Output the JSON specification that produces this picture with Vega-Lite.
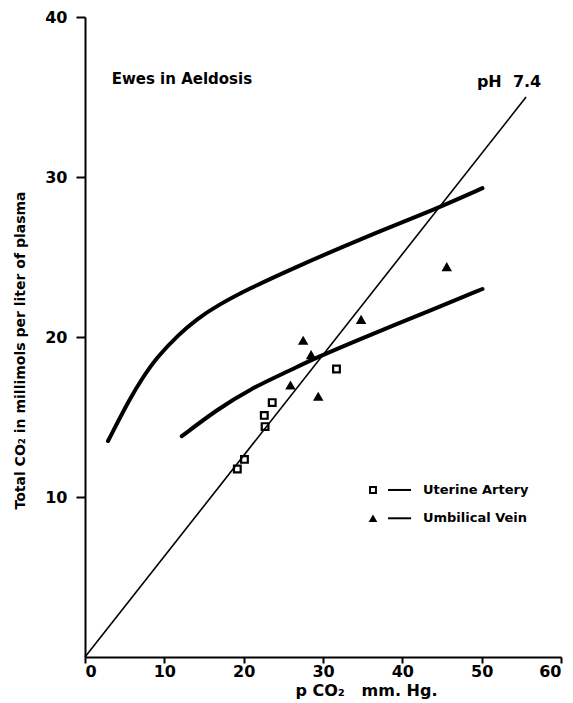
{
  "$schema": "https://vega.github.io/schema/vega-lite/v6.json",
  "width": 476,
  "height": 640,
  "autosize": {"type": "none"},
  "padding": {"left": 85, "top": 17, "right": 12, "bottom": 46},
  "background": "white",
  "config": {
    "view": {"stroke": null},
    "font": "DejaVu Sans",
    "axis": {
      "grid": false,
      "domainColor": "black",
      "domainWidth": 2,
      "tickColor": "black",
      "tickWidth": 2,
      "tickSize": 7,
      "labelFont": "DejaVu Sans",
      "labelFontWeight": "bold",
      "labelFontSize": 16,
      "labelColor": "black",
      "titleFont": "DejaVu Sans",
      "titleFontWeight": "bold",
      "titleColor": "black"
    }
  },
  "datasets": {
    "curves": [
      {"curve": "upper", "pco2": 2.9, "tco2": 13.5},
      {"curve": "upper", "pco2": 5.7, "tco2": 16.2},
      {"curve": "upper", "pco2": 7.33, "tco2": 17.5},
      {"curve": "upper", "pco2": 9.0, "tco2": 18.7},
      {"curve": "upper", "pco2": 11.9, "tco2": 20.2},
      {"curve": "upper", "pco2": 14.05, "tco2": 21.1},
      {"curve": "upper", "pco2": 16.6, "tco2": 21.95},
      {"curve": "upper", "pco2": 20.8, "tco2": 23.05},
      {"curve": "upper", "pco2": 25.8, "tco2": 24.2},
      {"curve": "upper", "pco2": 34.6, "tco2": 26.1},
      {"curve": "upper", "pco2": 44.7, "tco2": 28.1},
      {"curve": "upper", "pco2": 50.1, "tco2": 29.3},
      {"curve": "lower", "pco2": 12.2, "tco2": 13.8},
      {"curve": "lower", "pco2": 16.6, "tco2": 15.45},
      {"curve": "lower", "pco2": 20.8, "tco2": 16.75},
      {"curve": "lower", "pco2": 25.8, "tco2": 17.9},
      {"curve": "lower", "pco2": 29.1, "tco2": 18.7},
      {"curve": "lower", "pco2": 35.8, "tco2": 20.1},
      {"curve": "lower", "pco2": 44.2, "tco2": 21.8},
      {"curve": "lower", "pco2": 50.1, "tco2": 23.0}
    ],
    "ph": [
      {"pco2": 0, "tco2": 0},
      {"pco2": 55.6, "tco2": 35.0}
    ],
    "points": [
      {"site": "Uterine Artery", "pco2": 19.2, "tco2": 11.75},
      {"site": "Uterine Artery", "pco2": 20.1, "tco2": 12.35},
      {"site": "Uterine Artery", "pco2": 22.7, "tco2": 14.4},
      {"site": "Uterine Artery", "pco2": 22.6, "tco2": 15.1},
      {"site": "Uterine Artery", "pco2": 23.6, "tco2": 15.9},
      {"site": "Uterine Artery", "pco2": 31.7, "tco2": 18.0},
      {"site": "Umbilical Vein", "pco2": 27.5, "tco2": 19.8},
      {"site": "Umbilical Vein", "pco2": 28.5, "tco2": 18.9},
      {"site": "Umbilical Vein", "pco2": 25.9, "tco2": 17.0},
      {"site": "Umbilical Vein", "pco2": 29.4, "tco2": 16.3},
      {"site": "Umbilical Vein", "pco2": 34.8, "tco2": 21.1},
      {"site": "Umbilical Vein", "pco2": 45.6, "tco2": 24.4}
    ],
    "legend": [
      {"site": "Uterine Artery", "mx": 36.3, "lx1": 38.2, "lx2": 41.1, "tx": 42.6, "y": 10.44},
      {"site": "Umbilical Vein", "mx": 36.3, "lx1": 38.2, "lx2": 41.1, "tx": 42.6, "y": 8.67}
    ],
    "labels": [
      {"text": "Ewes in Aeldosis", "x": 3.36, "y": 36.1, "size": 15},
      {"text": "pH\u00a0\u00a07.4", "x": 49.4, "y": 35.96, "size": 16}
    ]
  },
  "layer": [
    {
      "data": {"name": "ph"},
      "mark": {"type": "line", "color": "black", "strokeWidth": 1.6},
      "encoding": {
        "x": {
          "field": "pco2", "type": "quantitative",
          "scale": {"domain": [0, 60], "nice": false, "zero": false},
          "axis": {
            "values": [0, 10, 20, 30, 40, 50, 60],
            "title": "p CO₂\u00a0\u00a0 mm. Hg.",
            "titleFontSize": 16,
            "titleX": 281,
            "titlePadding": 3,
            "labelPadding": 0,
            "tickSize": 6
          }
        },
        "y": {
          "field": "tco2", "type": "quantitative",
          "scale": {"domain": [0, 40], "nice": false, "zero": false},
          "axis": {
            "values": [10, 20, 30, 40],
            "title": "Total CO₂ in millimols per liter of plasma",
            "titleFontSize": 14,
            "titleY": 333,
            "titlePadding": 17,
            "labelPadding": 9,
            "tickSize": 9
          }
        }
      }
    },
    {
      "data": {"name": "curves"},
      "mark": {"type": "line", "color": "black", "strokeWidth": 4, "interpolate": "basis", "strokeCap": "round"},
      "encoding": {
        "x": {"field": "pco2", "type": "quantitative"},
        "y": {"field": "tco2", "type": "quantitative"},
        "detail": {"field": "curve"}
      }
    },
    {
      "data": {"name": "points"},
      "transform": [{"filter": "datum.site === 'Uterine Artery'"}],
      "mark": {"type": "point", "shape": "square", "filled": false, "color": "black", "strokeWidth": 2.2, "size": 45, "opacity": 1},
      "encoding": {
        "x": {"field": "pco2", "type": "quantitative"},
        "y": {"field": "tco2", "type": "quantitative"}
      }
    },
    {
      "data": {"name": "points"},
      "transform": [{"filter": "datum.site === 'Umbilical Vein'"}],
      "mark": {"type": "point", "shape": "triangle-up", "filled": true, "color": "black", "size": 110, "opacity": 1},
      "encoding": {
        "x": {"field": "pco2", "type": "quantitative"},
        "y": {"field": "tco2", "type": "quantitative"}
      }
    },
    {
      "data": {"name": "legend"},
      "transform": [{"filter": "datum.site === 'Uterine Artery'"}],
      "mark": {"type": "point", "shape": "square", "filled": false, "color": "black", "strokeWidth": 2, "size": 35, "opacity": 1},
      "encoding": {
        "x": {"field": "mx", "type": "quantitative"},
        "y": {"field": "y", "type": "quantitative"}
      }
    },
    {
      "data": {"name": "legend"},
      "transform": [{"filter": "datum.site === 'Umbilical Vein'"}],
      "mark": {"type": "point", "shape": "triangle-up", "filled": true, "color": "black", "size": 75, "opacity": 1},
      "encoding": {
        "x": {"field": "mx", "type": "quantitative"},
        "y": {"field": "y", "type": "quantitative"}
      }
    },
    {
      "data": {"name": "legend"},
      "mark": {"type": "rule", "color": "black", "strokeWidth": 2},
      "encoding": {
        "x": {"field": "lx1", "type": "quantitative"},
        "x2": {"field": "lx2"},
        "y": {"field": "y", "type": "quantitative"}
      }
    },
    {
      "data": {"name": "legend"},
      "mark": {"type": "text", "align": "left", "baseline": "middle", "fontWeight": "bold", "fontSize": 13, "color": "black", "font": "DejaVu Sans"},
      "encoding": {
        "x": {"field": "tx", "type": "quantitative"},
        "y": {"field": "y", "type": "quantitative"},
        "text": {"field": "site"}
      }
    },
    {
      "data": {"name": "labels"},
      "mark": {"type": "text", "align": "left", "baseline": "middle", "fontWeight": "bold", "color": "black", "font": "DejaVu Sans"},
      "encoding": {
        "x": {"field": "x", "type": "quantitative"},
        "y": {"field": "y", "type": "quantitative"},
        "text": {"field": "text"},
        "size": {"field": "size", "type": "quantitative", "scale": null}
      }
    }
  ]
}
